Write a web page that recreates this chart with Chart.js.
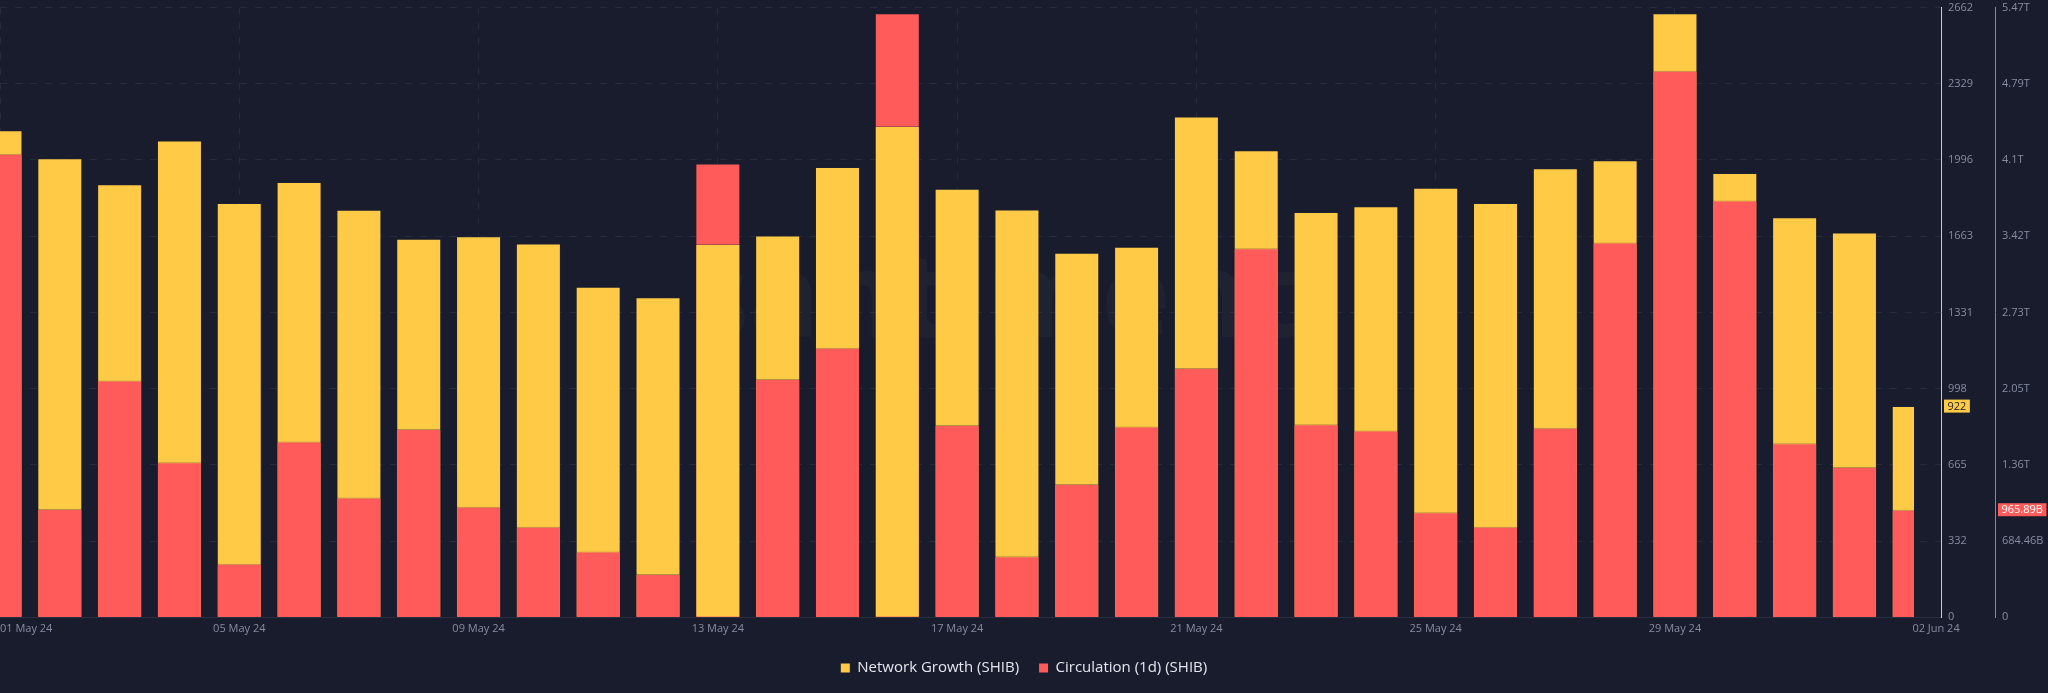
<!DOCTYPE html>
<html>
<head>
<meta charset="utf-8">
<script src="https://cdn.jsdelivr.net/npm/chart.js@4.4.1/dist/chart.umd.min.js"></script>
<style>
  html, body { margin: 0; padding: 0; background: #191c2c; }
  #wrap { position: relative; width: 2048px; height: 693px; }
</style>
</head>
<body>
<div id="wrap"><canvas id="c"></canvas></div>
<script>
// ---------------- data ----------------
const dates = [
  '01 May 24','02 May 24','03 May 24','04 May 24','05 May 24','06 May 24','07 May 24','08 May 24',
  '09 May 24','10 May 24','11 May 24','12 May 24','13 May 24','14 May 24','15 May 24','16 May 24',
  '17 May 24','18 May 24','19 May 24','20 May 24','21 May 24','22 May 24','23 May 24','24 May 24',
  '25 May 24','26 May 24','27 May 24','28 May 24','29 May 24','30 May 24','31 May 24','01 Jun 24',
  '02 Jun 24'
];
const networkGrowth = [
  2126, 2004, 1890, 2081, 1809, 1900, 1779, 1653,
  1663, 1632, 1443, 1397, 1630, 1667, 1966, 2145,
  1871, 1780, 1591, 1618, 2186, 2039, 1769, 1794,
  1875, 1809, 1960, 1995, 2637, 1939, 1746, 1680,
  922
];
const circulation = [
  4162e9,  972e9, 2127e9, 1393e9,  480e9, 1579e9, 1075e9, 1690e9,
   992e9,  813e9,  591e9,  389e9, 4075e9, 2139e9, 2420e9, 5424e9,
  1726e9,  548e9, 1198e9, 1714e9, 2238e9, 3313e9, 1734e9, 1678e9,
   944e9,  813e9, 1702e9, 3365e9, 4908e9, 3742e9, 1563e9, 1349e9,
  965.89e9
];
const xTickLabels = ['01 May 24','05 May 24','09 May 24','13 May 24','17 May 24','21 May 24','25 May 24','29 May 24','02 Jun 24'];
const ngTickLabels = ['0','332','665','998','1331','1663','1996','2329','2662'];
const circTickLabels = ['0','684.46B','1.36T','2.05T','2.73T','3.42T','4.1T','4.79T','5.47T'];
const ngAxisMax = 2662;
const circAxisMax = 5475.68e9;
const ngLastLabel = '922';
const circLastLabel = '965.89B';
const seriesNames = ['Network Growth (SHIB)', 'Circulation (1d) (SHIB)'];

// ---------------- styles ----------------
const YELLOW = '#ffcb47';
const RED = '#ff5b5b';
const BG = '#191c2c';
const GRID = '#262a3d';
const TICK = '#878ca1';
const FONT = '"Open Sans", "Liberation Sans", sans-serif';
const X_MAX = 32.447;        // scale end (a bit past the last day)
const X_END_TICK = 32.364;   // where the last date label sits

// the shorter of the two bars is drawn in front
const frNG = networkGrowth.map(v => v / ngAxisMax);
const frC = circulation.map(v => v / circAxisMax);
const pts = (arr, keep) => arr.map((v, i) => ({ x: i, y: keep(i) ? v : null }));

const barCommon = {
  grouped: false,
  barPercentage: 0.752,
  categoryPercentage: 1,
  borderWidth: 1,
  borderColor: 'rgba(40,40,48,0.35)',
  borderSkipped: 'start',
  clip: { left: 0, top: 0, right: -27, bottom: 0 }
};

const datasets = [
  Object.assign({ label: seriesNames[0], data: pts(networkGrowth, i => frNG[i] >= frC[i]), backgroundColor: YELLOW, yAxisID: 'yNG', order: 1 }, barCommon),
  Object.assign({ label: seriesNames[1], data: pts(circulation, i => frC[i] > frNG[i]), backgroundColor: RED, yAxisID: 'yC', order: 1 }, barCommon),
  Object.assign({ label: seriesNames[0] + ' ', data: pts(networkGrowth, i => frNG[i] < frC[i]), backgroundColor: YELLOW, yAxisID: 'yNG', order: 0 }, barCommon),
  Object.assign({ label: seriesNames[1] + ' ', data: pts(circulation, i => frC[i] <= frNG[i]), backgroundColor: RED, yAxisID: 'yC', order: 0 }, barCommon)
];

const xTickValues = xTickLabels.map((l, i) => i === xTickLabels.length - 1 ? X_END_TICK : dates.indexOf(l));

const watermark = {
  id: 'watermark',
  beforeDatasetsDraw(chart) {
    const { ctx } = chart;
    ctx.save();
    ctx.font = 'bold 118px ' + FONT;
    ctx.fillStyle = 'rgba(255,255,255,0.028)';
    ctx.textAlign = 'center';
    ctx.textBaseline = 'alphabetic';
    ctx.fillText('santiment', 995, 337);
    ctx.restore();
  }
};

const badges = {
  id: 'badges',
  afterDraw(chart) {
    const { ctx } = chart;
    const items = [
      { scale: chart.scales.yNG, value: networkGrowth[networkGrowth.length - 1], text: ngLastLabel, bg: YELLOW, fg: BG },
      { scale: chart.scales.yC, value: circulation[circulation.length - 1], text: circLastLabel, bg: RED, fg: '#ffffff' }
    ];
    ctx.save();
    ctx.font = '11px ' + FONT;
    ctx.textBaseline = 'middle';
    ctx.textAlign = 'left';
    items.forEach(it => {
      const y = it.scale.getPixelForValue(it.value);
      const x = it.scale.left + 3;
      const w = ctx.measureText(it.text).width + 7;
      ctx.fillStyle = it.bg;
      ctx.fillRect(x, y - 6.5, w, 13);
      ctx.fillStyle = it.fg;
      ctx.fillText(it.text, x + 3.5, y + 0.5);
    });
    ctx.restore();
  }
};

const noPad = scale => { scale.paddingLeft = 0; scale.paddingRight = 0; scale.paddingTop = 0; scale.paddingBottom = 0; };

new Chart(document.getElementById('c'), {
  type: 'bar',
  data: { datasets },
  plugins: [watermark, badges],
  options: {
    responsive: true,
    maintainAspectRatio: false,
    animation: false,
    layout: { padding: { top: 7.5, left: 0, right: 0, bottom: 7.5 } },
    scales: {
      x: {
        type: 'linear',
        offset: false,
        min: 0,
        max: X_MAX,
        afterBuildTicks(scale) {
          // trailing empty tick keeps the last date label centred (align: 'inner' only left-aligns the first)
          scale.ticks = xTickValues.map(v => ({ value: v })).concat([{ value: X_MAX + 10 }]);
        },
        afterFit(scale) { noPad(scale); },
        ticks: {
          align: 'inner',
          autoSkip: false,
          maxRotation: 0,
          padding: 5,
          color: TICK,
          font: { family: FONT, size: 11 },
          callback(value) {
            const i = xTickValues.indexOf(value);
            return i >= 0 ? xTickLabels[i] : '';
          }
        },
        grid: {
          offset: false,
          drawTicks: false,
          color: ctx => (ctx.tick && ctx.tick.value > 32) ? 'rgba(0,0,0,0)' : GRID,
          lineWidth: 1
        },
        border: { display: true, color: '#2a2e41', dash: [7, 8] }
      },
      yNG: {
        type: 'linear',
        position: 'right',
        min: 0,
        max: ngAxisMax,
        afterBuildTicks(scale) {
          scale.ticks = ngTickLabels.map((l, i) => ({ value: ngAxisMax * i / (ngTickLabels.length - 1) }));
        },
        afterFit(scale) { scale.width = 54; noPad(scale); },
        ticks: {
          padding: 7,
          color: TICK,
          font: { family: FONT, size: 11 },
          callback(value, index) { return ngTickLabels[index]; }
        },
        grid: { drawTicks: false, color: GRID, lineWidth: 1 },
        border: { display: true, color: YELLOW, width: 1, dash: [7, 8] }
      },
      yC: {
        type: 'linear',
        position: 'right',
        min: 0,
        max: circAxisMax,
        afterBuildTicks(scale) {
          scale.ticks = circTickLabels.map((l, i) => ({ value: circAxisMax * i / (circTickLabels.length - 1) }));
        },
        afterFit(scale) { scale.width = 53; noPad(scale); },
        ticks: {
          padding: 7,
          color: TICK,
          font: { family: FONT, size: 11 },
          callback(value, index) { return circTickLabels[index]; }
        },
        grid: { display: false, drawTicks: false },
        border: { display: true, color: RED, width: 1 }
      }
    },
    plugins: {
      tooltip: { enabled: false },
      legend: {
        position: 'bottom',
        onClick: null,
        labels: {
          color: '#e4e6ee',
          font: { family: FONT, size: 15 },
          boxWidth: 9,
          boxHeight: 9,
          padding: 20,
          generateLabels() {
            return [
              { text: seriesNames[0], fillStyle: YELLOW, strokeStyle: YELLOW, lineWidth: 0, hidden: false, datasetIndex: 0, fontColor: '#e4e6ee' },
              { text: seriesNames[1], fillStyle: RED, strokeStyle: RED, lineWidth: 0, hidden: false, datasetIndex: 1, fontColor: '#e4e6ee' }
            ];
          }
        }
      }
    }
  }
});
</script>
</body>
</html>
